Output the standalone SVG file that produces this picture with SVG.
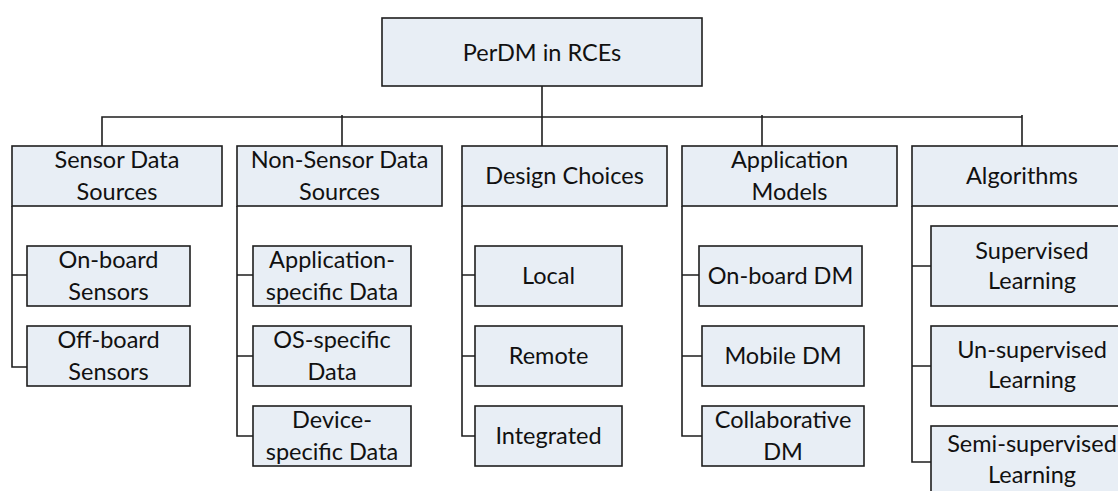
<svg xmlns="http://www.w3.org/2000/svg" width="1118" height="491" viewBox="0 0 1118 491">
<style>
.box{fill:#E8EEF5;stroke:#1E1E1E;stroke-width:1.6}
.t{font-family:Lato,"Liberation Sans",sans-serif;font-size:23.5px;fill:#111;text-anchor:middle}
.c{fill:none;stroke:#1E1E1E;stroke-width:1.6}
</style>
<rect width="1118" height="491" fill="#fff"/>
<g id="connectors">
<path class="c" d="M542 86V146M102 146V117H1022M342 115V146M762 115V146M1022 115V146"/>
<path class="c" d="M12 206V367H27M12 275H27"/>
<path class="c" d="M237 206V436H253M237 275H253M237 356H253"/>
<path class="c" d="M462 206V436H475M462 275H475M462 356H475"/>
<path class="c" d="M682 206V436H702M682 275H699M682 356H702"/>
<path class="c" d="M912 206V462H931M912 266H931M912 366H931"/>
</g>
<g id="root"><rect class="box" x="382" y="18" width="320" height="68"/><text class="t" x="542" y="61">PerDM in RCEs</text></g>
<g id="sensor"><rect class="box" x="12" y="146" width="210" height="60"/><text class="t" x="117" y="168">Sensor Data</text><text class="t" x="117" y="200">Sources</text></g>
<g id="nonsensor"><rect class="box" x="237" y="146" width="205" height="60"/><text class="t" x="339.5" y="168">Non-Sensor Data</text><text class="t" x="339.5" y="200">Sources</text></g>
<g id="design"><rect class="box" x="462" y="146" width="205" height="60"/><text class="t" x="564.5" y="184">Design Choices</text></g>
<g id="appmodels"><rect class="box" x="682" y="146" width="215" height="60"/><text class="t" x="789.5" y="168">Application</text><text class="t" x="789.5" y="200">Models</text></g>
<g id="algorithms"><rect class="box" x="912" y="146" width="220" height="60"/><text class="t" x="1022" y="184">Algorithms</text></g>
<g id="onboard-sensors"><rect class="box" x="27" y="246" width="163" height="60"/><text class="t" x="108.5" y="268">On-board</text><text class="t" x="108.5" y="300">Sensors</text></g>
<g id="offboard-sensors"><rect class="box" x="27" y="326" width="163" height="60"/><text class="t" x="108.5" y="348">Off-board</text><text class="t" x="108.5" y="380">Sensors</text></g>
<g id="app-data"><rect class="box" x="253" y="246" width="158" height="60"/><text class="t" x="332" y="268">Application-</text><text class="t" x="332" y="300">specific Data</text></g>
<g id="os-data"><rect class="box" x="253" y="326" width="158" height="60"/><text class="t" x="332" y="348">OS-specific</text><text class="t" x="332" y="380">Data</text></g>
<g id="device-data"><rect class="box" x="253" y="406" width="158" height="60"/><text class="t" x="332" y="428">Device-</text><text class="t" x="332" y="460">specific Data</text></g>
<g id="local"><rect class="box" x="475" y="246" width="147" height="60"/><text class="t" x="548.5" y="284">Local</text></g>
<g id="remote"><rect class="box" x="475" y="326" width="147" height="60"/><text class="t" x="548.5" y="364">Remote</text></g>
<g id="integrated"><rect class="box" x="475" y="406" width="147" height="60"/><text class="t" x="548.5" y="444">Integrated</text></g>
<g id="onboard-dm"><rect class="box" x="699" y="246" width="163" height="60"/><text class="t" x="780.5" y="284">On-board DM</text></g>
<g id="mobile-dm"><rect class="box" x="702" y="326" width="162" height="60"/><text class="t" x="783" y="364">Mobile DM</text></g>
<g id="collab-dm"><rect class="box" x="702" y="406" width="162" height="60"/><text class="t" x="783" y="428">Collaborative</text><text class="t" x="783" y="460">DM</text></g>
<g id="supervised"><rect class="box" x="931" y="226" width="202" height="80"/><text class="t" x="1032" y="259">Supervised</text><text class="t" x="1032" y="289">Learning</text></g>
<g id="unsupervised"><rect class="box" x="931" y="326" width="202" height="80"/><text class="t" x="1032" y="358">Un-supervised</text><text class="t" x="1032" y="388">Learning</text></g>
<g id="semisupervised"><rect class="box" x="931" y="426" width="202" height="80"/><text class="t" x="1032" y="452">Semi-supervised</text><text class="t" x="1032" y="483">Learning</text></g>
</svg>
